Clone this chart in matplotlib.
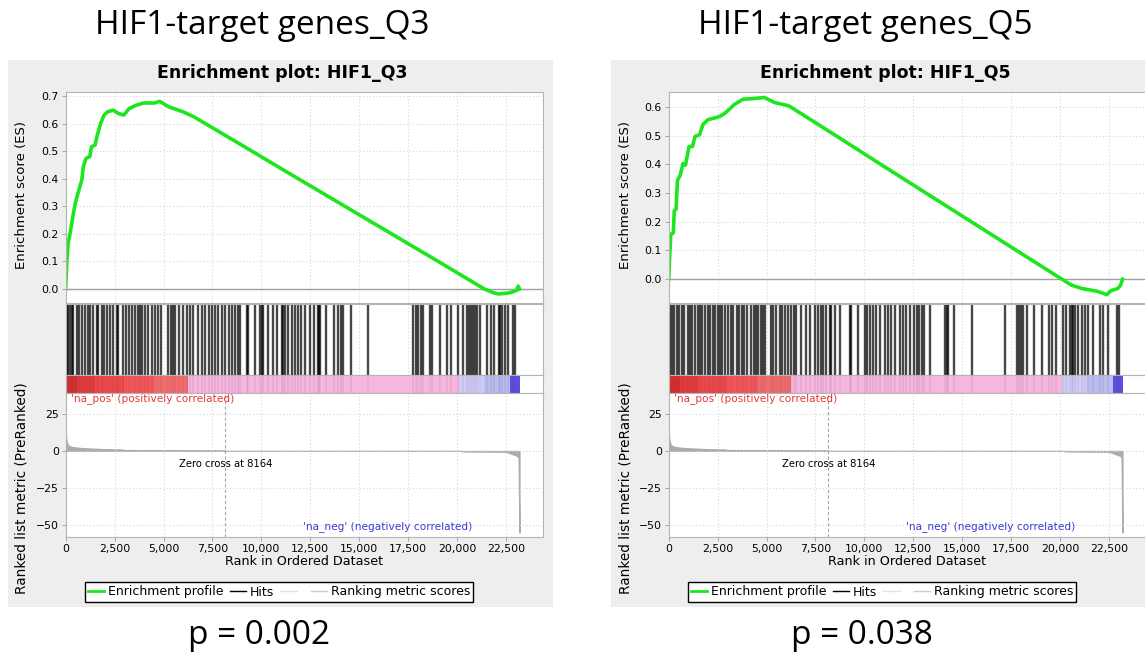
import numpy as np
import matplotlib
matplotlib.use("Agg")
import matplotlib.pyplot as plt
from matplotlib.lines import Line2D
from matplotlib.patches import Rectangle

# ---- data ----
n_genes = 23200
zero_cross = 8164

q3_es_rank = [0, 55, 128, 220, 400, 495, 680, 825, 900, 1045, 1230, 1320, 1500, 1595,
              1780, 1962, 2145, 2420, 2695, 2970, 3245, 3610, 3980, 4530, 4805, 5265,
              6000, 6550, 9000, 11500, 14000, 16500, 19000, 21000, 21400, 21800, 22100,
              22500, 22800, 23050, 23130, 23200]
q3_es_val = [0.0, 0.096, 0.168, 0.20, 0.277, 0.313, 0.361, 0.397, 0.445, 0.475, 0.481,
             0.517, 0.523, 0.553, 0.601, 0.632, 0.644, 0.650, 0.638, 0.632, 0.656, 0.668,
             0.676, 0.676, 0.682, 0.662, 0.644, 0.626, 0.523, 0.417, 0.312, 0.207, 0.102,
             0.017, 0.0, -0.012, -0.018, -0.016, -0.012, -0.005, 0.010, 0.0]

q5_es_rank = [0, 54, 107, 232, 286, 376, 447, 590, 733, 858, 1037, 1216, 1341, 1574, 1753,
              2021, 2379, 2647, 2915, 3363, 3810, 4346, 4883, 5420, 6135, 8500, 11000,
              13500, 16000, 18500, 20100, 20600, 21150, 21900, 22400, 22600, 22950, 23100,
              23200]
q5_es_val = [0.0, 0.085, 0.156, 0.161, 0.238, 0.244, 0.344, 0.362, 0.403, 0.397, 0.462,
             0.462, 0.497, 0.503, 0.539, 0.556, 0.562, 0.568, 0.580, 0.609, 0.627, 0.629,
             0.633, 0.615, 0.604, 0.502, 0.393, 0.285, 0.177, 0.069, 0.0, -0.021, -0.033,
             -0.042, -0.054, -0.040, -0.033, -0.021, 0.0]

q3_hits = [10, 49, 135, 220, 305, 390, 560, 680, 816, 986, 1122, 1242, 1412, 1582, 1667,
           1838, 1974, 2093, 2264, 2434, 2604, 2690, 2945, 3064, 3235, 3405, 3541, 3678,
           3797, 3916, 4052, 4222, 4393, 4563, 4733, 4870, 5245, 5381, 5500, 5585, 5790,
           6011, 6181, 6352, 6522, 6744, 6948, 7118, 7323, 7493, 7629, 7799, 7970, 8140,
           8345, 8481, 8651, 8788, 8907, 9248, 9332, 9673, 9929, 10014, 10099, 10354,
           10610, 10781, 11036, 11121, 11206, 11376, 11581, 11717, 11888, 12024, 12228,
           12484, 12705, 12876, 12944, 12995, 13284, 13727, 13931, 14068, 14187, 14579,
           15464, 17764, 17883, 18019, 18156, 18275, 18616, 18735, 19127, 19468, 19689,
           20030, 20319, 20490, 20609, 20711, 20830, 20915, 21001, 21171, 21512, 21767,
           21886, 22142, 22227, 22312, 22448, 22618, 22873, 22993]

q5_hits = [10, 60, 145, 281, 400, 520, 656, 792, 962, 1082, 1201, 1337, 1473, 1593, 1712,
           1848, 1984, 2104, 2274, 2359, 2495, 2615, 2734, 2870, 3040, 3177, 3296, 3466,
           3586, 3722, 3858, 4028, 4199, 4369, 4488, 4573, 4710, 4829, 4948, 5221, 5340,
           5510, 5681, 5800, 5936, 6106, 6243, 6413, 6532, 6788, 7043, 7214, 7469, 7639,
           7776, 7895, 8065, 8236, 8321, 8491, 8747, 9258, 9343, 9683, 10024, 10160, 10280,
           10450, 10620, 10791, 11046, 11216, 11387, 11591, 11813, 11983, 12153, 12341,
           12562, 12681, 12801, 12971, 13073, 13363, 14129, 14214, 14266, 14606, 15492,
           17195, 17791, 17911, 18013, 18132, 18302, 18694, 19069, 19444, 19580, 19784,
           20176, 20295, 20517, 20602, 20687, 20772, 20942, 21113, 21283, 21453, 21709,
           22050, 22220, 22475, 22901, 23021]

metric_rank = [0, 30, 80, 150, 300, 600, 1000, 1500, 2000, 2900, 3000, 5000, 8164, 8165,
               20200, 20300, 22500, 22700, 22900, 23100, 23150, 23170, 23200]
metric_val = [18, 8, 5, 3.5, 2.8, 2.2, 1.8, 1.5, 1.2, 1.0, 0.6, 0.5, 0.3, 0.0,
              0.0, -0.4, -0.6, -1.5, -2.5, -3.5, -5, -30, -55]

# colour bar under the hits (ranked list heat strip)
heat_edges = [0, 600, 1500, 3000, 4500, 6270, 20100, 21400, 22700, 23200]
heat_colors = ['#d62e2e', '#e43a3a', '#ef4848', '#f45656', '#f26c6c',
               '#f6b6df', '#cfcff6', '#bcbcf0', '#5a4ee0']

x_ticks = np.arange(0, 22501, 2500)
panels = [
    dict(name="HIF1_Q3", head="HIF1-target genes_Q3", p="p = 0.002",
         es_rank=q3_es_rank, es_val=q3_es_val, hits=q3_hits,
         es_ticks=np.arange(0, 0.71, 0.1), es_lim=(-0.051, 0.716), dx=0),
    dict(name="HIF1_Q5", head="HIF1-target genes_Q5", p="p = 0.038",
         es_rank=q5_es_rank, es_val=q5_es_val, hits=q5_hits,
         es_ticks=np.arange(0, 0.61, 0.1), es_lim=(-0.083, 0.652), dx=603),
]

W, H = 1145, 661
fig = plt.figure(figsize=(W / 100, H / 100), dpi=100)
fig.patch.set_facecolor('white')


def box(x0, y0, x1, y1):
    # pixel box (top-left origin) -> figure fraction rect
    return [x0 / W, 1 - y1 / H, (x1 - x0) / W, (y1 - y0) / H]


def style_ax(ax):
    ax.set_facecolor('white')
    for s in ax.spines.values():
        s.set_color('#b4b4b4')
        s.set_linewidth(0.8)
    ax.tick_params(length=3, width=0.6, color='#999999', labelsize=7.8, pad=2)
    ax.set_xlim(0, 24400)


grid_kw = dict(color='#d6d6d6', linestyle=(0, (1, 2)), linewidth=0.8)

for p in panels:
    dx = p['dx']
    # grey panel background
    fig.patches.append(Rectangle(((8 + dx) / W, 1 - 607 / H), 545 / W, 547 / H,
                                 transform=fig.transFigure, facecolor='#eeeeee',
                                 edgecolor='none', zorder=-10))
    fig.text((262 + dx) / W, 1 - 26 / H, p['head'], ha='center', va='center',
             fontsize=24, family='Open Sans')
    fig.text((259 + dx) / W, 1 - 636 / H, p['p'], ha='center', va='center',
             fontsize=24, family='Open Sans')
    fig.text((282 + dx) / W, 1 - 73 / H, "Enrichment plot: " + p['name'],
             ha='center', va='center', fontsize=12.5, fontweight='bold')

    x0, x1 = 65.7 + dx, 543 + dx

    # enrichment score
    ax1 = fig.add_axes(box(x0, 92, x1, 303))
    style_ax(ax1)
    ax1.set_ylim(*p['es_lim'])
    ax1.set_yticks(p['es_ticks'])
    ax1.set_yticklabels([f"{v:.1f}" for v in p['es_ticks']])
    ax1.set_xticks(x_ticks)
    ax1.tick_params(axis='x', labelbottom=False, length=0)
    ax1.grid(True, **grid_kw)
    ax1.axhline(0, color='#a0a0a0', linewidth=1.0)
    ax1.plot(p['es_rank'], p['es_val'], color='#1ee61e', linewidth=2.6,
             solid_joinstyle='round')
    fig.text((22 + dx) / W, 1 - 195 / H, "Enrichment score (ES)", rotation=90,
             ha='center', va='center', fontsize=9.5)

    # hits
    ax2 = fig.add_axes(box(x0, 304, x1, 375))
    style_ax(ax2)
    ax2.set_ylim(0, 1)
    ax2.set_yticks([])
    ax2.set_xticks(x_ticks)
    ax2.tick_params(axis='x', labelbottom=False, length=0)
    ax2.grid(True, axis='x', **grid_kw)
    ax2.vlines(p['hits'], 0, 1, color='black', linewidth=1.7, alpha=0.72)

    # heat strip
    ax3 = fig.add_axes(box(x0, 375, x1, 393))
    style_ax(ax3)
    ax3.set_ylim(0, 1)
    ax3.set_xticks([])
    ax3.set_yticks([])
    for a, b, c in zip(heat_edges[:-1], heat_edges[1:], heat_colors):
        ax3.axvspan(a, b, color=c, linewidth=0)
    ax3.vlines(p['hits'], 0, 1, color='#6a3a6a', linewidth=1.2, alpha=0.1)

    # ranked list metric
    ax4 = fig.add_axes(box(x0, 393, x1, 537))
    style_ax(ax4)
    ax4.set_ylim(-58, 39)
    ax4.set_yticks([25, 0, -25, -50])
    ax4.set_xticks(x_ticks)
    ax4.set_xticklabels([f"{v:,}" for v in x_ticks])
    ax4.grid(True, **grid_kw)
    ax4.fill_between(metric_rank, metric_val, 0, color='#ababab', linewidth=0.8,
                     edgecolor='#ababab')
    ax4.axvline(zero_cross, color='#a8a8a8', linestyle=(0, (3, 2)), linewidth=0.8)
    ax4.text(zero_cross, -9, f"Zero cross at {zero_cross}", ha='center',
             va='center', fontsize=7.2)
    ax4.text(250, 35.5, "'na_pos' (positively correlated)", color='#e23a3a',
             fontsize=7.6, va='center', ha='left')
    ax4.text(16450, -51, "'na_neg' (negatively correlated)", color='#3c3cd8',
             fontsize=7.6, va='center', ha='center')
    ax4.set_xlabel("Rank in Ordered Dataset", fontsize=9.2, labelpad=1)
    fig.text((22 + dx) / W, 1 - 488 / H, "Ranked list metric (PreRanked)",
             rotation=90, ha='center', va='center', fontsize=9.8)

    handles = [Line2D([], [], color='#1ee61e', linewidth=2),
               Line2D([], [], color='black', linewidth=1),
               Line2D([], [], color='#e2e2e2', linewidth=1),
               Line2D([], [], color='#cfcfcf', linewidth=1)]
    labels = ["Enrichment profile", "Hits", " ", "Ranking metric scores"]
    fig.legend(handles, labels, loc='center', ncol=4,
               bbox_to_anchor=((279 + dx) / W, 1 - 592 / H), fontsize=9,
               frameon=True, fancybox=False, edgecolor='black', framealpha=1,
               handlelength=1.3, handletextpad=0.3, columnspacing=0.5,
               borderpad=0.25)

fig.savefig("out.png", dpi=100)
